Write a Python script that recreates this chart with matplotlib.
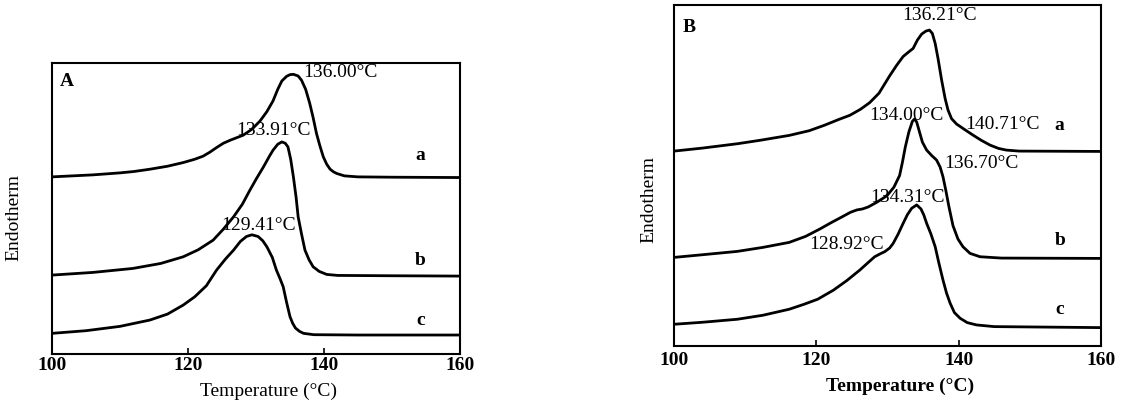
import numpy as np
import matplotlib
matplotlib.use("Agg")
import matplotlib.pyplot as plt

plt.rcParams['font.family'] = ['Liberation Serif', 'DejaVu Serif']

# ---- Panel A (heat flow, arbitrary units) ----
A_temp_a = [100, 106, 110, 112, 114.4, 117, 119.3, 121, 122.2, 123.2, 124.2, 125.2, 126.2, 127.2, 128.1,
            129.4, 130.6, 131.6, 132.5, 133.2, 133.8, 134.5, 135.0, 135.5, 136.2, 136.7, 137.3, 137.9,
            138.4, 138.9, 139.4, 139.9, 140.4, 140.9, 141.4, 141.9, 143, 145, 150, 160]
A_heat_a = [53.2, 53.8, 54.4, 54.8, 55.5, 56.4, 57.5, 58.5, 59.4, 60.6, 62.0, 63.3, 64.2, 65.0, 65.7,
            67.5, 70.0, 72.8, 76.0, 79.5, 82.0, 83.4, 83.9, 84.0, 83.5, 82.2, 79.5, 75.3,
            71.0, 66.2, 62.5, 59.2, 57.0, 55.5, 54.7, 54.2, 53.5, 53.2, 53.1, 53.0]

A_temp_b = [100, 106, 111.9, 116, 119.3, 121.5, 123.7, 125.2, 126.7, 128, 129.1, 130.1, 131.1, 132,
            132.5, 133.2, 133.8, 134.3, 134.7, 135.1, 135.5, 135.9, 136.2, 136.7, 137.2, 137.8, 138.4,
            139.3, 140.4, 142, 150, 160]
A_heat_b = [23.7, 24.5, 25.7, 27.2, 29.2, 31.3, 34.2, 37.5, 41.2, 45.0, 49.2, 52.8, 56.2, 59.5,
            61.2, 63.0, 63.7, 63.3, 62.2, 58.5, 53.2, 47.0, 41.2, 36.0, 31.2, 28.3, 26.2,
            24.8, 23.9, 23.6, 23.5, 23.4]

A_temp_c = [100, 105, 110, 114.4, 117, 119.3, 121, 122.7, 124.2, 125.5, 126.7, 127.7, 128.6, 129.4,
            130.3, 131.0, 131.6, 132.4, 133.0, 133.5, 134.0, 134.5, 135.0, 135.4, 135.8, 136.4, 137,
            138.5, 145, 160]
A_heat_c = [6.2, 7.0, 8.3, 10.2, 12.0, 14.7, 17.2, 20.5, 25.2, 28.5, 31.2, 33.8, 35.3, 35.8,
            35.3, 34.0, 32.2, 29.0, 25.2, 22.8, 20.2, 15.5, 11.2, 9.2, 7.8, 6.8, 6.2,
            5.8, 5.7, 5.7]

# ---- Panel B ----
B_temp_a = [100, 104, 108.9, 112, 116.2, 119, 121.1, 123.2, 124.7, 126.2, 127.5, 128.8, 130.3, 131.3,
            132.2, 133.0, 133.6, 134.2, 134.8, 135.4, 135.9, 136.3, 136.7, 137.1, 137.6, 138.1, 138.5,
            139.0, 139.7, 140.8, 142.0, 143.2, 144.4, 145.6, 146.7, 148.5, 160]
B_heat_a = [58.3, 59.2, 60.5, 61.5, 63.0, 64.4, 66.0, 67.8, 69.0, 70.8, 72.8, 75.6, 80.8, 84.0,
            86.6, 88.0, 89.0, 91.5, 93.3, 94.2, 94.5, 93.5, 90.5, 86.0, 79.6, 74.0, 70.6,
            68.0, 66.4, 64.8, 63.1, 61.5, 60.1, 59.1, 58.6, 58.3, 58.2]

B_temp_b = [100, 104, 108.9, 112.5, 116.2, 118.5, 120.5, 122.0, 123.5, 124.8, 125.7, 126.5, 127.3,
            128.5, 129.9, 130.9, 131.7, 132.1, 132.5, 133.0, 133.5, 133.8, 134.1, 134.5, 134.9, 135.5,
            136.2, 136.9, 137.4, 137.8, 138.2, 138.6, 139.2, 139.9, 140.6, 141.6, 143.0, 146, 160]
B_heat_b = [26.5, 27.3, 28.3, 29.5, 31.0, 32.8, 35.0, 36.8, 38.5, 40.0, 40.7, 41.0, 41.6,
            43.0, 44.9, 47.5, 51.0, 55.0, 59.5, 64.0, 67.2, 67.9, 67.0, 64.0, 61.0, 58.6,
            57.0, 55.6, 53.5, 50.6, 46.5, 42.0, 36.0, 32.0, 29.7, 27.7, 26.7, 26.3, 26.2]

B_temp_c = [100, 104, 108.9, 112.5, 116.2, 118.3, 120.2, 122.4, 124.3, 126.1, 127.3, 128.2, 129.0,
            129.6, 130.3, 130.8, 131.5, 132.2, 132.8, 133.4, 134.1, 134.7, 135.1, 135.5, 136.1, 136.7,
            137.2, 137.8, 138.3, 138.8, 139.4, 140.2, 141.2, 142.5, 145, 160]
B_heat_c = [6.5, 7.1, 8.0, 9.2, 11.0, 12.5, 14.0, 16.7, 19.6, 22.7, 25.0, 26.7, 27.6,
            28.2, 29.3, 30.7, 33.5, 36.7, 39.3, 41.2, 42.2, 41.0, 39.2, 36.7, 33.5, 29.7,
            25.0, 19.7, 15.8, 12.8, 10.0, 8.3, 7.0, 6.3, 5.8, 5.5]

# peak annotations: (text, x, y)
A_peaks = [("136.00°C", 136.9, 84.4), ("133.91°C", 127.1, 67.2), ("129.41°C", 124.9, 38.7)]
B_peaks = [("136.21°C", 132.0, 99.0), ("134.00°C", 127.5, 69.0), ("140.71°C", 140.9, 66.2),
           ("136.70°C", 137.9, 54.5), ("134.31°C", 127.6, 44.4), ("128.92°C", 119.0, 30.5)]
A_curve_labels = [("a", 59.7), ("b", 28.2), ("c", 10.2)]
B_curve_labels = [("a", 66.0), ("b", 31.5), ("c", 11.0)]

fig = plt.figure(figsize=(11.28, 4.04), dpi=100)
axA = fig.add_axes([52 / 1128, 1 - 354 / 404, 408 / 1128, 291 / 404])
axB = fig.add_axes([674 / 1128, 1 - 346 / 404, 427 / 1128, 341 / 404])


def draw_panel(ax, curves, peaks, curve_labels, letter, ymax, lx, ly, xlab_y, tick_pad, bold):
    for t, h in curves:
        ax.plot(t, h, color='black', lw=2.0, solid_joinstyle='round', solid_capstyle='round')
    for txt, x, y in peaks:
        ax.text(x, y, txt, fontsize=14, ha='left', va='center')
    for txt, y in curve_labels:
        ax.text(154.2, y, txt, fontsize=14, fontweight='bold', ha='center', va='center')
    ax.text(101.2, ymax * 0.935, letter, fontsize=14, fontweight='bold', ha='left', va='center')
    ax.set_xlim(100, 160)
    ax.set_ylim(0, ymax)
    ax.set_xticks([100, 120, 140, 160])
    ax.set_yticks([])
    ax.tick_params(axis='x', direction='in', length=4, width=1.2, pad=tick_pad, labelsize=14)
    for lab in ax.get_xticklabels():
        lab.set_fontweight('bold')
    for s in ax.spines.values():
        s.set_linewidth(1.5)
    ax.set_xlabel('Temperature (°C)', fontsize=14, fontweight='bold' if bold else 'normal')
    ax.xaxis.set_label_coords(0.53, xlab_y)
    ax.xaxis.label.set_va('top')
    ax.set_ylabel('Endotherm', fontsize=14)
    ax.yaxis.set_label_coords(lx, ly)


draw_panel(axA, [(A_temp_a, A_heat_a), (A_temp_b, A_heat_b), (A_temp_c, A_heat_c)],
           A_peaks, A_curve_labels, 'A', 87.4, -0.073, 0.47, -0.10, 2.5, False)
draw_panel(axB, [(B_temp_a, B_heat_a), (B_temp_b, B_heat_b), (B_temp_c, B_heat_c)],
           B_peaks, B_curve_labels, 'B', 102, -0.04, 0.43, -0.093, 4, True)

fig.savefig('out.png', dpi=100)
